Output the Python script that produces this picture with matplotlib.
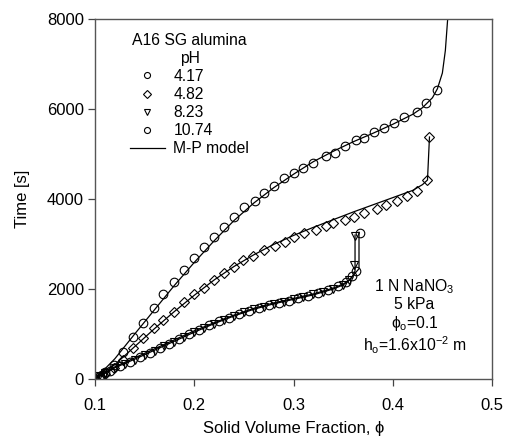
import matplotlib
matplotlib.use("Agg")
import matplotlib.pyplot as plt

plt.rcParams["font.family"] = ["Liberation Sans", "DejaVu Sans"]
plt.rcParams["mathtext.fontset"] = "custom"
plt.rcParams["mathtext.rm"] = "Liberation Sans"
plt.rcParams["mathtext.it"] = "Liberation Sans:italic"

# pH 4.17 (circles)
ph417_x = [0.100, 0.105, 0.110, 0.119, 0.128, 0.138, 0.148, 0.159, 0.169, 0.180, 0.190, 0.200,
           0.210, 0.220, 0.230, 0.240, 0.250, 0.261, 0.270, 0.280, 0.290, 0.300, 0.310, 0.320,
           0.333, 0.342, 0.352, 0.363, 0.371, 0.381, 0.391, 0.401, 0.411, 0.424, 0.433, 0.445]
ph417_y = [0, 60, 150, 311, 600, 933, 1244, 1578, 1889, 2156, 2422, 2689,
           2933, 3156, 3378, 3600, 3822, 3956, 4130, 4289, 4467, 4578, 4689, 4800,
           4956, 5022, 5170, 5300, 5345, 5480, 5578, 5689, 5822, 5933, 6133, 6422]
mod417_x = [0.10, 0.12, 0.14, 0.16, 0.18, 0.20, 0.22, 0.24, 0.26, 0.28, 0.30, 0.32, 0.34,
            0.36, 0.38, 0.40, 0.42, 0.43, 0.44, 0.445, 0.450, 0.453, 0.455, 0.456]
mod417_y = [0, 450, 1000, 1540, 2080, 2590, 3070, 3520, 3910, 4250, 4550, 4830, 5060,
            5270, 5460, 5660, 5880, 6030, 6250, 6450, 6800, 7300, 7900, 8200]

# pH 4.82 (diamonds)
ph482_x = [0.100, 0.105, 0.110, 0.119, 0.128, 0.138, 0.148, 0.159, 0.169, 0.180, 0.190, 0.200,
           0.210, 0.220, 0.230, 0.240, 0.249, 0.259, 0.270, 0.281, 0.291, 0.301, 0.311, 0.323,
           0.333, 0.340, 0.352, 0.361, 0.371, 0.384, 0.393, 0.404, 0.414, 0.424, 0.435, 0.437]
ph482_y = [0, 40, 110, 244, 422, 689, 911, 1133, 1311, 1489, 1711, 1889,
           2022, 2200, 2356, 2489, 2644, 2733, 2867, 2956, 3044, 3156, 3244, 3311,
           3400, 3467, 3533, 3600, 3689, 3778, 3867, 3960, 4067, 4178, 4422, 5378]
mod482_x = [0.10, 0.12, 0.14, 0.16, 0.18, 0.20, 0.22, 0.24, 0.26, 0.28, 0.30, 0.32, 0.34,
            0.36, 0.38, 0.40, 0.42, 0.43, 0.435, 0.437]
mod482_y = [0, 320, 720, 1120, 1500, 1860, 2200, 2500, 2760, 2990, 3190, 3370, 3540,
            3710, 3870, 4030, 4190, 4320, 4422, 5378]

# pH 8.23 (triangles)
ph823_x = [0.100, 0.104, 0.110, 0.120, 0.130, 0.140, 0.150, 0.160, 0.170, 0.180, 0.190, 0.200,
           0.210, 0.220, 0.230, 0.240, 0.250, 0.260, 0.270, 0.280, 0.290, 0.300, 0.310, 0.320,
           0.330, 0.340, 0.350, 0.356, 0.361, 0.362]
ph823_y = [0, 60, 130, 240, 340, 430, 530, 630, 730, 830, 930, 1040,
           1140, 1230, 1320, 1400, 1480, 1550, 1610, 1670, 1720, 1770, 1820, 1880,
           1940, 2010, 2100, 2200, 2530, 3180]
mod823_x = [0.10, 0.12, 0.14, 0.16, 0.18, 0.20, 0.22, 0.24, 0.26, 0.28, 0.30, 0.32, 0.34,
            0.35, 0.355, 0.360, 0.362, 0.362]
mod823_y = [0, 250, 440, 640, 840, 1040, 1230, 1400, 1550, 1670, 1770, 1870, 2000,
            2090, 2170, 2300, 2400, 3200]

# pH 10.74 (circles)
ph1074_x = [0.100, 0.107, 0.115, 0.125, 0.135, 0.145, 0.155, 0.165, 0.175, 0.185, 0.195, 0.205,
            0.215, 0.225, 0.235, 0.245, 0.255, 0.265, 0.275, 0.285, 0.295, 0.305, 0.315, 0.325,
            0.335, 0.345, 0.353, 0.359, 0.363, 0.367]
ph1074_y = [0, 90, 180, 290, 380, 480, 580, 680, 780, 880, 990, 1090,
            1190, 1280, 1360, 1440, 1510, 1580, 1640, 1690, 1740, 1800, 1850, 1910,
            1980, 2060, 2150, 2280, 2400, 3240]
mod1074_x = [0.10, 0.12, 0.14, 0.16, 0.18, 0.20, 0.22, 0.24, 0.26, 0.28, 0.30, 0.32, 0.34,
             0.35, 0.357, 0.362, 0.366, 0.366]
mod1074_y = [0, 270, 470, 670, 870, 1070, 1250, 1420, 1570, 1690, 1790, 1890, 2020,
             2110, 2210, 2350, 2450, 3260]

fig = plt.figure(figsize=(5.07, 4.40), dpi=100)
ax = fig.add_axes([95 / 507, 1 - 379 / 440, 397 / 507, 360 / 440])

mk = dict(linestyle="none", mfc="none", mec="black", mew=0.8, ms=6.2)
ln = dict(color="black", lw=0.9)

ax.plot(mod417_x, mod417_y, **ln)
ax.plot(mod482_x, mod482_y, **ln)
ax.plot(mod823_x, mod823_y, **ln)
ax.plot(mod1074_x, mod1074_y, **ln)
h1, = ax.plot(ph417_x, ph417_y, marker="o", label="4.17", **mk)
h2, = ax.plot(ph482_x, ph482_y, marker="D", label="4.82", **dict(mk, ms=5.3))
h3, = ax.plot(ph823_x, ph823_y, marker="v", label="8.23", **mk)
h4, = ax.plot(ph1074_x, ph1074_y, marker="o", label="10.74", **mk)
hl, = ax.plot([], [], label="M-P model", **ln)

ax.set_xlim(0.1, 0.5)
ax.set_ylim(0, 8000)
ax.set_xticks([0.1, 0.2, 0.3, 0.4, 0.5])
ax.set_xticklabels(["0.1", "0.2", "0.3", "0.4", "0.5"])
ax.set_yticks([0, 2000, 4000, 6000, 8000])
ax.tick_params(direction="out", length=5, width=0.9, color="#444444", labelsize=12, pad=3)
ax.tick_params(axis="x", pad=8.5)
for s in ax.spines.values():
    s.set_color("#555555")
    s.set_linewidth(1.0)

ax.set_xlabel("Solid Volume Fraction, ϕ", fontsize=12, labelpad=6)
ax.set_ylabel("Time [s]", fontsize=12, labelpad=12)

leg = ax.legend(handles=[h1, h2, h3, h4, hl], title="A16 SG alumina\npH",
                loc="upper left", bbox_to_anchor=(0.057, 0.995), frameon=False,
                fontsize=11.3, title_fontsize=11.3, markerscale=0.7,
                handlelength=2.2, handletextpad=0.55, labelspacing=0.2, borderpad=0.3)
leg._legend_box.align = "center"
leg.get_title().set_multialignment("center")

ax.text(0.805, 0.283, "1 N NaNO$_3$\n5 kPa\nϕ$_{\\rm o}$=0.1\nh$_{\\rm o}$=1.6x10$^{-2}$ m",
        transform=ax.transAxes, ha="center", va="top", fontsize=11.3, linespacing=1.12,
        multialignment="center")

fig.savefig("out.png", dpi=100)
